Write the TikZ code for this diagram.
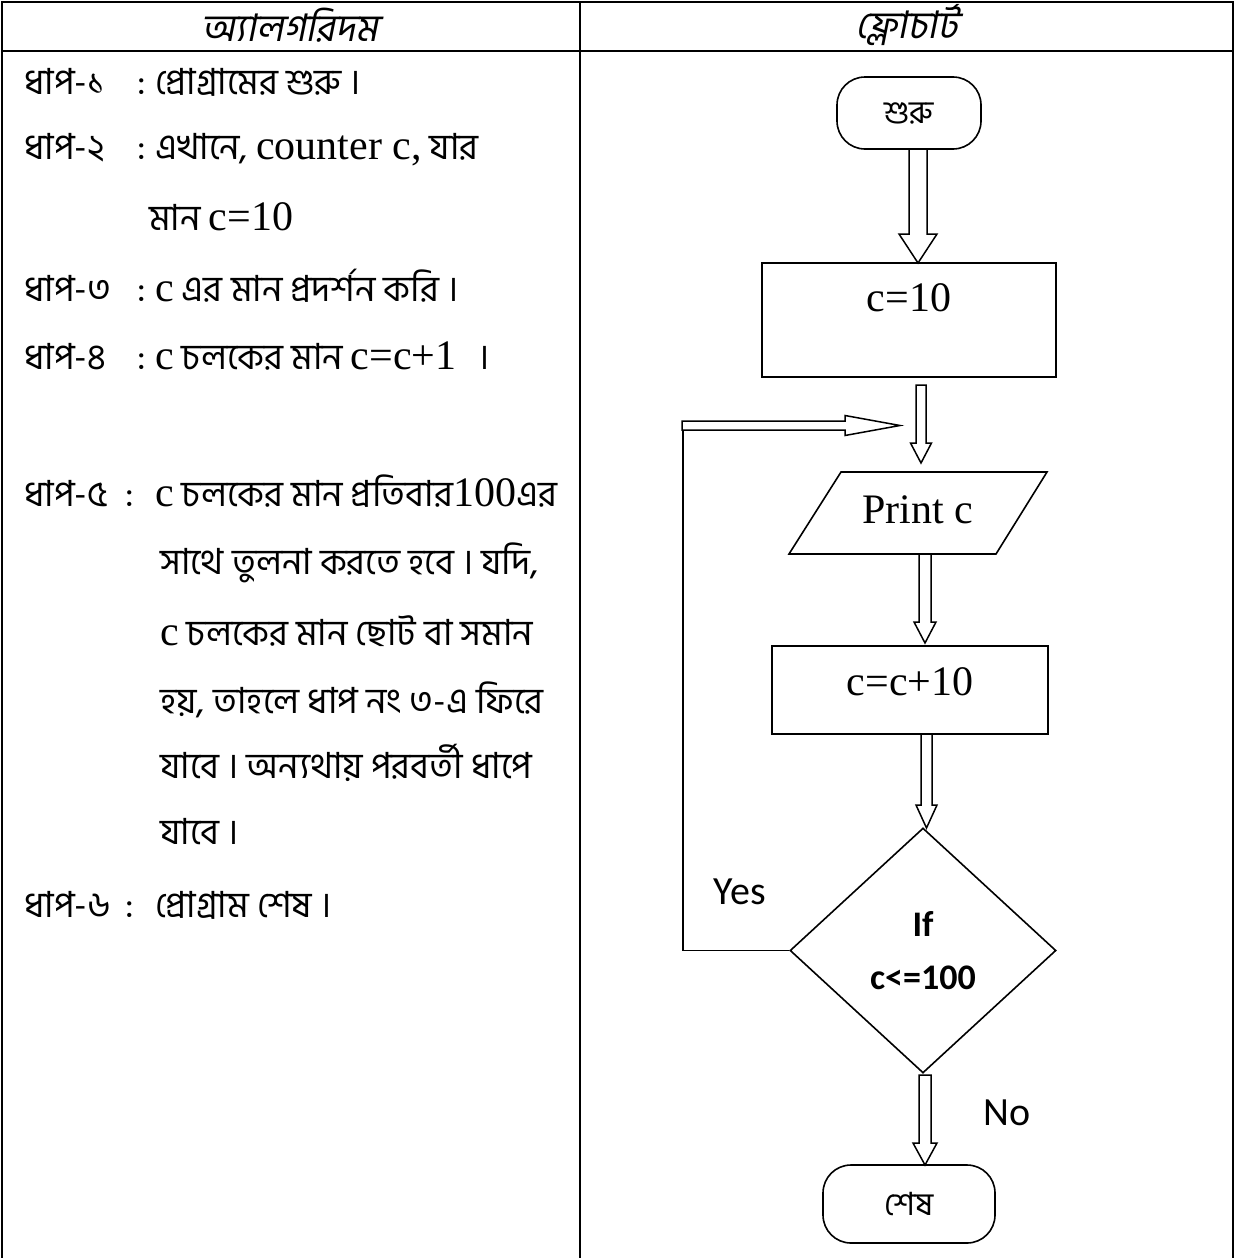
\documentclass[tikz,border=0pt]{standalone}
\usepackage{fontspec}
\setmainfont{Liberation Serif}
\newfontfamily\bn[Script=Bengali]{Hind Siliguri}
\newfontfamily\bnit[Script=Bengali,FakeSlant=0.2]{Hind Siliguri}
\newfontfamily\carlito{Carlito}
\usetikzlibrary{calc,shapes.geometric}
\newcommand{\ltn}[1]{{\rmfamily\fontsize{42}{46}\selectfont #1}}
\newcommand{\stepA}[1]{\makebox[113pt][l]{#1}\makebox[18pt][l]{:}}
\newcommand{\stepB}[1]{\makebox[101pt][l]{#1}\makebox[30pt][l]{:}}
\newcommand{\vblock}[5]{\draw[barrow] ($(#1)+(-#3,0)$) -- ($(#2)+(-#3,-#5)$) -- ($(#2)+(-#4,-#5)$) -- (#2) -- ($(#2)+(#4,-#5)$) -- ($(#2)+(#3,-#5)$) -- ($(#1)+(#3,0)$) -- cycle;}
\newcommand{\hblock}[5]{\draw[barrow] ($(#1)+(0,-#3)$) -- ($(#2)+(-#5,-#3)$) -- ($(#2)+(-#5,-#4)$) -- (#2) -- ($(#2)+(-#5,#4)$) -- ($(#2)+(-#5,#3)$) -- ($(#1)+(0,#3)$) -- cycle;}
\tikzset{
  tline/.style={line width=2.6pt},
  fl/.style={line width=1.6pt},
  barrow/.style={draw, line width=1.5pt, fill=white, line join=miter},
  lt/.style={anchor=base west, inner sep=0pt, font=\bn\fontsize{36}{40}\selectfont},
  hdr/.style={inner sep=0pt, font=\bnit\fontsize{38}{40}\selectfont},
  term/.style={draw, fl, rounded corners=28pt, inner sep=0pt, font=\bn\fontsize{32}{36}\selectfont},
  proc/.style={draw, fl, inner sep=0pt},
  ftxt/.style={inner sep=0pt, font=\rmfamily\fontsize{42}{46}\selectfont},
  decis/.style={draw, fl, diamond, inner sep=0pt, align=center, font=\carlito\bfseries\fontsize{36}{53}\selectfont},
  yn/.style={inner sep=0pt, font=\carlito\fontsize{40}{44}\selectfont},
}
\begin{document}
\begin{tikzpicture}[x=1pt,y=-1pt]
\useasboundingbox (0,0) rectangle (1236,1258);
% table
\draw[tline] (2,1260) -- (2,2) -- (1233,2) -- (1233,1260);
\draw[tline] (2,51) -- (1233,51);
\draw[tline] (580,2) -- (580,1260);
\node[hdr] (h1) at (290,25) {অ্যালগরিদম};
\node[hdr] (h2) at (907,25) {ফ্লোচার্ট};
% algorithm text
\node[lt] (s1) at (24,94) {\stepA{ধাপ-১}প্রোগ্রামের শুরু ।};
\node[lt] (s2) at (24,159) {\stepA{ধাপ-২}এখানে, \ltn{counter c,} যার};
\node[lt] (s2b) at (149,230) {মান \ltn{c=10}};
\node[lt] (s3) at (24,301) {\stepA{ধাপ-৩}\ltn{c} এর মান প্রদর্শন করি ।};
\node[lt] (s4) at (24,369) {\stepA{ধাপ-৪}\ltn{c} চলকের মান \ltn{c=c+1}\hspace{22pt}।};
\node[lt] (s5) at (24,506) {\stepB{ধাপ-৫}\ltn{c} চলকের মান প্রতিবার\ltn{100}এর};
\node[lt] (s5b) at (160,574) {সাথে তুলনা করতে হবে । যদি,};
\node[lt] (s5c) at (160,645) {\ltn{c} চলকের মান ছোট বা সমান};
\node[lt] (s5d) at (160,713) {হয়, তাহলে ধাপ নং ৩-এ ফিরে};
\node[lt] (s5e) at (160,778) {যাবে । অন্যথায় পরবর্তী ধাপে};
\node[lt] (s5f) at (160,844) {যাবে ।};
\node[lt] (s6) at (24,917) {\stepB{ধাপ-৬}প্রোগ্রাম শেষ ।};
% flowchart
\node[term, minimum width=144pt, minimum height=72pt] (start) at (909,113) {শুরু};
\node[proc, minimum width=294pt, minimum height=114pt] (init) at (909,320) {};
\node[ftxt] (initt) at (909,298) {c=10};
\coordinate (p1) at (841,472); \coordinate (p2) at (1047,472);
\coordinate (p3) at (996,554); \coordinate (p4) at (789,554);
\draw[fl] (p1) -- (p2) -- (p3) -- (p4) -- cycle;
\node[ftxt] (print) at (918,510) {Print c};
\node[proc, minimum width=276pt, minimum height=88pt] (inc) at (910,690) {};
\node[ftxt] (inct) at (910,682) {c=c+10};
\node[decis, minimum width=266pt, minimum height=245pt] (dec) at (923,950.5) {If\\c<=100};
\node[term, minimum width=172pt, minimum height=78pt] (stop) at (909,1204) {শেষ};
\node[yn] (yes) at (740,892) {Yes};
\node[yn] (no) at (1007,1113) {No};
% block arrows
\coordinate (a1s) at (918,149); \coordinate (a1e) at (918,263);
\vblock{a1s}{a1e}{9}{19}{29}
\coordinate (a2s) at (921,385); \coordinate (a2e) at (921,463);
\vblock{a2s}{a2e}{5}{10.5}{20}
\coordinate (a3s) at (925,554); \coordinate (a3e) at (925,643);
\vblock{a3s}{a3e}{6}{11}{21}
\coordinate (a4s) at (926.5,734); \coordinate (a4e) at (926.5,828);
\vblock{a4s}{a4e}{5.5}{10.5}{23}
\coordinate (a5s) at (925,1075); \coordinate (a5e) at (925,1165);
\vblock{a5s}{a5e}{6}{12}{22}
% loop back
\coordinate (lb) at (683,430);
\draw[fl] (dec.west) -| (lb);
\coordinate (ls) at (682,425.5); \coordinate (le) at (900,425.5);
\hblock{ls}{le}{4.5}{10}{55}
\end{tikzpicture}
\end{document}
